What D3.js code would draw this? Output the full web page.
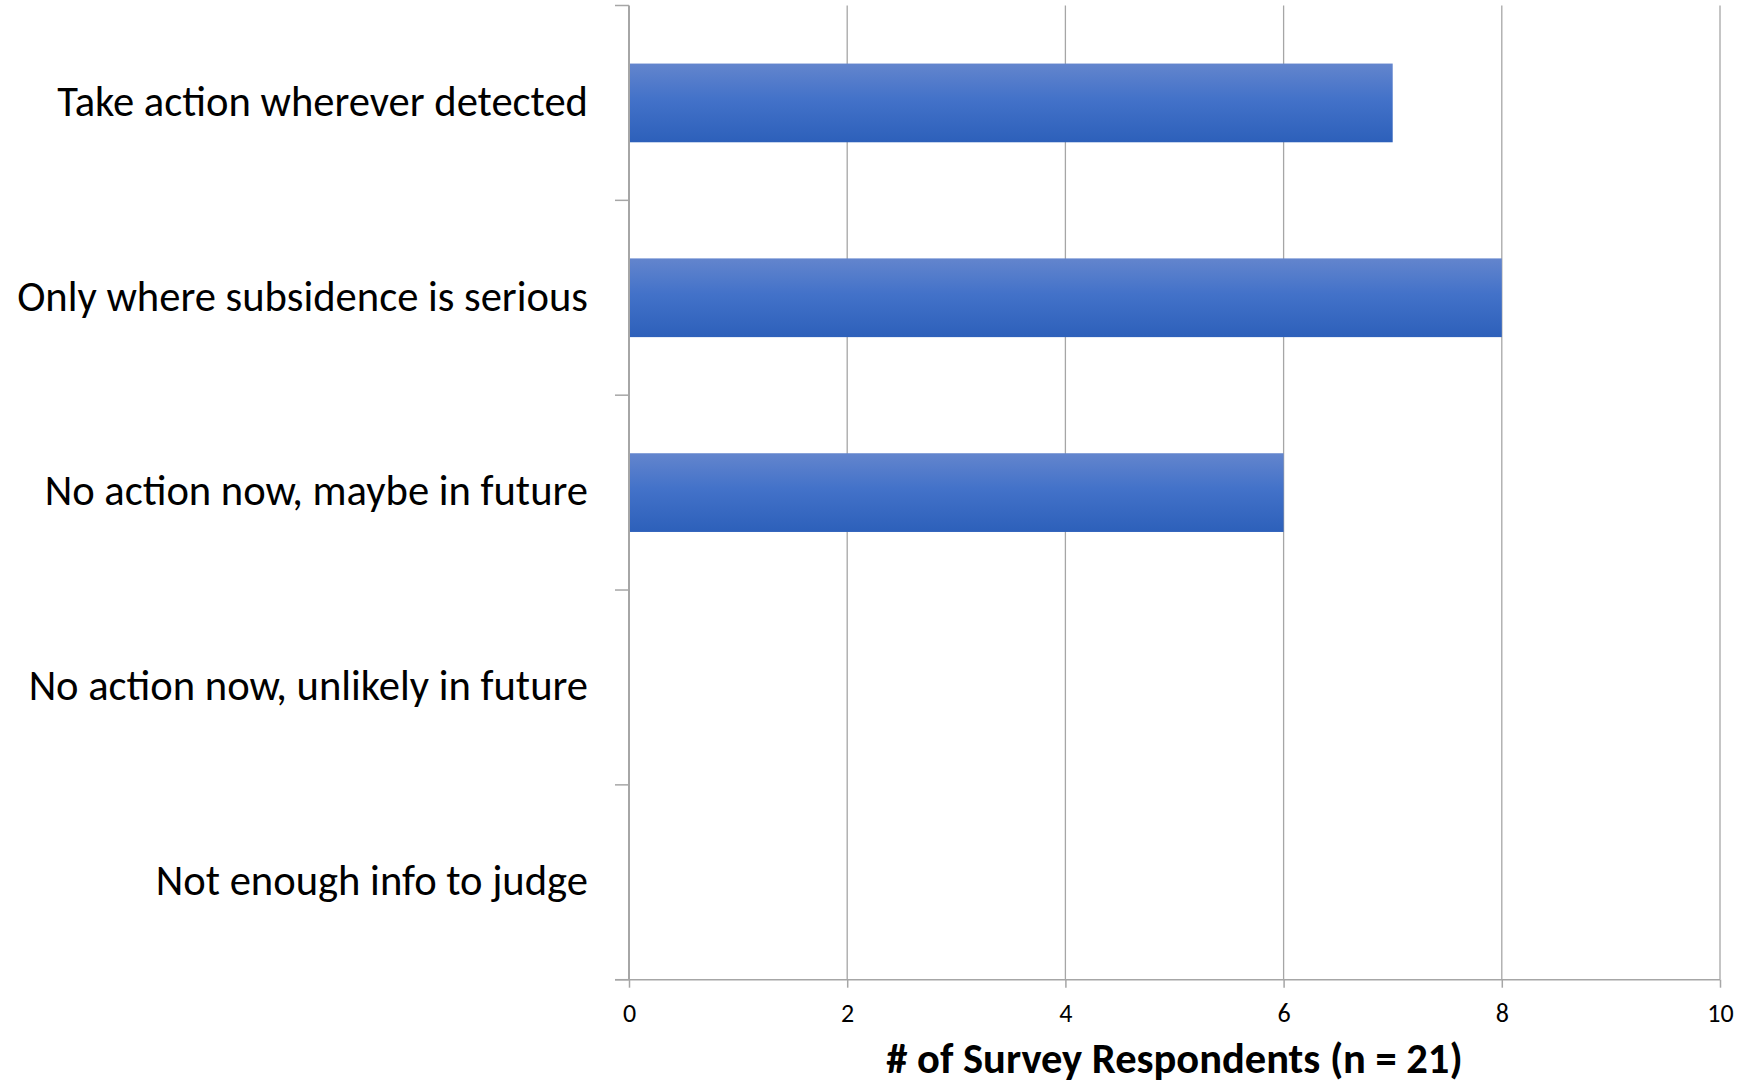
<!DOCTYPE html>
<html><head><meta charset="utf-8">
<script src="https://cdn.jsdelivr.net/npm/d3@7"></script>
<style>body{margin:0;background:#fff;} svg{display:block;} text{font-family:Carlito, Lato, "Open Sans", sans-serif;fill:#000;}</style>
</head><body>
<svg id="c" width="1739" height="1087"></svg>
<script>
const categories = ["Take action wherever detected","Only where subsidence is serious","No action now, maybe in future","No action now, unlikely in future","Not enough info to judge"];
const values = [7, 8, 6, 0, 0];
const xTicks = [0, 2, 4, 6, 8, 10];
const xTitle = "# of Survey Respondents (n = 21)";

const svg = d3.select("#c");
const L = 629, R = 1720, T = 5.5, B = 979.7;
const x = d3.scaleLinear().domain([0, 10]).range([L, R]);
const y = d3.scaleBand().domain(categories).range([T, B]).paddingInner(0.596).paddingOuter(0.298);

const defs = svg.append("defs");
const g = defs.append("linearGradient").attr("id","bg").attr("x1",0).attr("y1",0).attr("x2",0).attr("y2",1);
g.append("stop").attr("offset","0%").attr("stop-color","#6385cd");
g.append("stop").attr("offset","45%").attr("stop-color","#4372c9");
g.append("stop").attr("offset","100%").attr("stop-color","#2d60ba");

// gridlines
svg.append("g").selectAll("line").data(xTicks.filter(d=>d>0)).join("line")
  .attr("x1", d=>x(d)).attr("x2", d=>x(d)).attr("y1", T).attr("y2", B)
  .attr("stroke","#a6a6a6").attr("stroke-width",1.3);

// bars
svg.append("g").selectAll("rect").data(values.map((v,i)=>({c:categories[i],v}))).join("rect")
  .attr("x", x(0)).attr("y", d=>y(d.c)).attr("width", d=>x(d.v)-x(0)).attr("height", y.bandwidth())
  .attr("fill","url(#bg)");

// x axis
const xa = svg.append("g").attr("transform",`translate(0,${B})`)
  .call(d3.axisBottom(x).tickValues(xTicks).tickSize(8).tickSizeOuter(0).tickFormat(d3.format("d")));
xa.select(".domain").remove();
xa.selectAll(".tick line").attr("stroke","#a6a6a6").attr("stroke-width",1.5);
xa.selectAll(".tick text").attr("font-size",26).attr("dy",null).attr("y",42).style("font-family","Carlito, Lato, sans-serif");
svg.append("line").attr("x1",L-14).attr("x2",R).attr("y1",B).attr("y2",B).attr("stroke","#a6a6a6").attr("stroke-width",1.5);

// y axis
const boundaries = d3.range(categories.length+1).map(i => T + i*(B-T)/categories.length);
svg.append("g").selectAll("line").data(boundaries).join("line")
  .attr("x1", L-14).attr("x2", L).attr("y1", d=>d).attr("y2", d=>d)
  .attr("stroke","#a6a6a6").attr("stroke-width",1.5);
svg.append("line").attr("x1",L).attr("x2",L).attr("y1",T).attr("y2",B).attr("stroke","#a6a6a6").attr("stroke-width",2);

const ya = svg.append("g").attr("transform",`translate(${L},0)`)
  .call(d3.axisLeft(y).tickSize(0).tickPadding(41));
ya.select(".domain").remove();
ya.selectAll(".tick text").attr("font-size",42.6).attr("dy","0.3em").style("font-family","Carlito, Lato, sans-serif");

svg.append("text").attr("x",(L+R)/2).attr("y",1073).attr("text-anchor","middle")
  .attr("font-size",42.5).attr("font-weight","bold").text(xTitle);
</script>
</body></html>
